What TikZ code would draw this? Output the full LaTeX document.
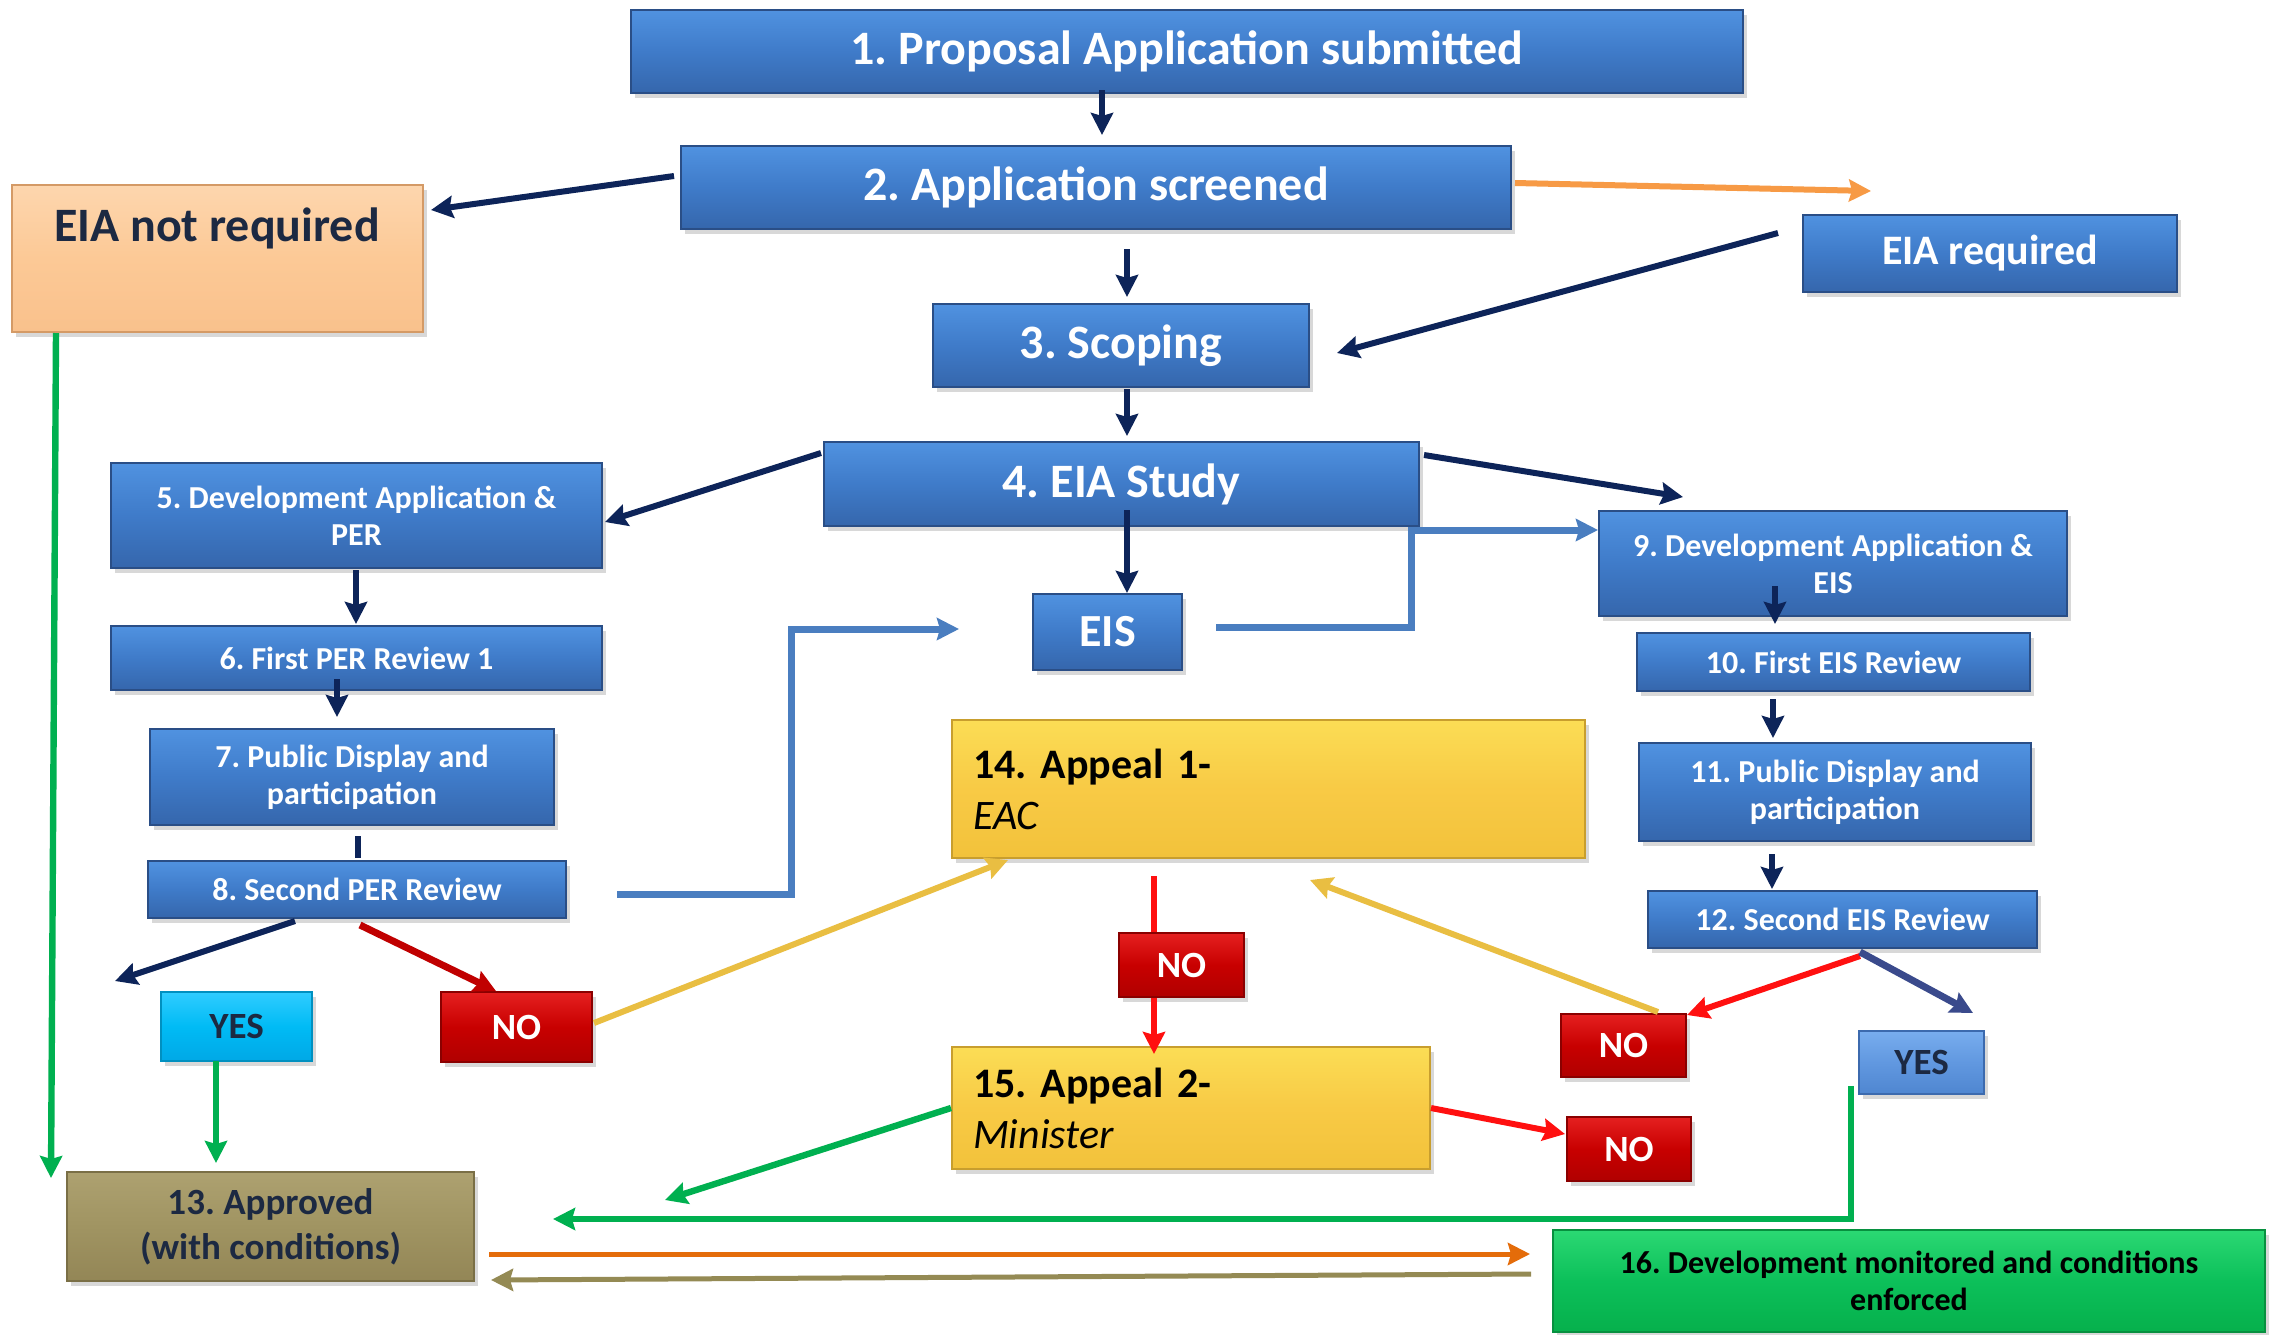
\documentclass[tikz,border=0pt]{standalone}
\usepackage{fontspec}
\setmainfont{Carlito}
\usetikzlibrary{arrows.meta,calc,shadows}
\frenchspacing
\definecolor{navy}{HTML}{0D2459}
\definecolor{bluetop}{HTML}{5092E0}
\definecolor{bluemid}{HTML}{3F7BC9}
\definecolor{bluebot}{HTML}{3566AC}
\definecolor{blueedge}{HTML}{2A4E86}
\definecolor{ortop}{HTML}{FDD6AE}
\definecolor{ormid}{HTML}{FCC996}
\definecolor{orbot}{HTML}{F9C18C}
\definecolor{oredge}{HTML}{D49A66}
\definecolor{yetop}{HTML}{FBDD55}
\definecolor{yemid}{HTML}{F8CA45}
\definecolor{yebot}{HTML}{F2C23B}
\definecolor{yeedge}{HTML}{C89E2E}
\definecolor{rdtop}{HTML}{E52020}
\definecolor{rdmid}{HTML}{C80000}
\definecolor{rdbot}{HTML}{B00000}
\definecolor{rdedge}{HTML}{8A0000}
\definecolor{cytop}{HTML}{30CCFF}
\definecolor{cymid}{HTML}{00BBF5}
\definecolor{cybot}{HTML}{00A8E6}
\definecolor{cyedge}{HTML}{0090C0}
\definecolor{lbtop}{HTML}{78ADEE}
\definecolor{lbmid}{HTML}{6198E0}
\definecolor{lbbot}{HTML}{4F86D0}
\definecolor{lbedge}{HTML}{3C6AAE}
\definecolor{khtop}{HTML}{ADA170}
\definecolor{khmid}{HTML}{A09462}
\definecolor{khbot}{HTML}{938656}
\definecolor{khedge}{HTML}{7A6F46}
\definecolor{grtop}{HTML}{2BD873}
\definecolor{grmid}{HTML}{0CC05A}
\definecolor{grbot}{HTML}{06B04C}
\definecolor{gredge}{HTML}{07903F}
\definecolor{steel}{HTML}{4A7EC0}
\definecolor{orangeln}{HTML}{F79A45}
\definecolor{goldln}{HTML}{E9BE42}
\definecolor{redln}{HTML}{FF1010}
\definecolor{darkredln}{HTML}{C00000}
\definecolor{slate}{HTML}{3A4A8C}
\definecolor{greenln}{HTML}{00B050}
\definecolor{orange2}{HTML}{E46C0A}
\definecolor{khakiln}{HTML}{948A54}
\definecolor{txtnavy}{HTML}{1C2942}
\begin{document}
\begin{tikzpicture}[x=0.5pt,y=-0.5pt,
  sz/.style 2 args={minimum width={#1*0.5pt}, minimum height={#2*0.5pt}},
  box/.style={rectangle, inner sep=0pt, align=center, draw, line width=1pt,
    drop shadow={opacity=0.3, shadow xshift=2pt, shadow yshift=-2.5pt}},
  bluebox/.style={box, top color=bluetop, bottom color=bluebot, middle color=bluemid, draw=blueedge, text=white, font=\bfseries},
  orangebox/.style={box, top color=ortop, bottom color=orbot, middle color=ormid, draw=oredge, text=txtnavy},
  yellowbox/.style={box, top color=yetop, bottom color=yebot, middle color=yemid, draw=yeedge, text=black, align=left, inner xsep=10.5pt},
  redbox/.style={box, top color=rdtop, bottom color=rdbot, middle color=rdmid, draw=rdedge, text=white, font=\bfseries\fontsize{18.5}{22.5}\selectfont},
  cyanbox/.style={box, top color=cytop, bottom color=cybot, middle color=cymid, draw=cyedge, text=txtnavy, font=\bfseries\fontsize{18.5}{22.5}\selectfont},
  lbluebox/.style={box, top color=lbtop, bottom color=lbbot, middle color=lbmid, draw=lbedge, text=txtnavy, font=\bfseries\fontsize{18.5}{22.5}\selectfont},
  khakibox/.style={box, top color=khtop, bottom color=khbot, middle color=khmid, draw=khedge, text=txtnavy, font=\bfseries\fontsize{18.5}{22.5}\selectfont},
  greenbox/.style={box, top color=grtop, bottom color=grbot, middle color=grmid, draw=gredge, text=black, font=\bfseries\fontsize{16}{18.5}\selectfont},
  f24/.style={font=\bfseries\fontsize{24}{28}\selectfont},
  f23/.style={font=\bfseries\fontsize{23}{27}\selectfont},
  f21/.style={font=\bfseries\fontsize{21}{25.5}\selectfont},
  f16/.style={font=\bfseries\fontsize{16}{18.5}\selectfont},
  tip/.style={-{Stealth[length=11pt,width=11pt,inset=1.5pt]}},
  navyarr/.style={draw=navy, line width=3pt, tip},
  navyline/.style={draw=navy, line width=3pt},
  orangearr/.style={draw=orangeln, line width=3pt, tip},
  steelarr/.style={draw=steel, line width=3.5pt, tip},
  goldarr/.style={draw=goldln, line width=3pt, tip},
  redarr/.style={draw=redln, line width=3pt, tip},
  redline/.style={draw=redln, line width=3pt},
  darkredarr/.style={draw=darkredln, line width=3.5pt, tip},
  slatearr/.style={draw=slate, line width=3.5pt, tip},
  greenarr/.style={draw=greenln, line width=3.2pt, tip},
  orangearr2/.style={draw=orange2, line width=2.5pt, tip},
  khakiarr/.style={draw=khakiln, line width=2.5pt, tip}
]
\path[use as bounding box, fill=white] (0,0) rectangle (2285,1334);

% nodes
\node[bluebox,f24,sz={1112}{83}] (n1) at (1187,51.5) {1. Proposal Application submitted};
\node[bluebox,f24,sz={830}{83}] (n2) at (1096,187.5) {2. Application screened};
\node[orangebox,sz={411}{147},font=\bfseries\fontsize{24}{28}\selectfont, text height=28pt, text depth=45.5pt] (nnot) at (217,258.5) {EIA not required};
\node[bluebox,f21,sz={374}{77}] (nreq) at (1990,253.5) {EIA required};
\node[bluebox,f24,sz={376}{83}] (n3) at (1121,345.5) {3. Scoping};
\node[bluebox,f24,sz={595}{84}] (n4) at (1121.5,484) {4. EIA Study};
\node[bluebox,f16,sz={491}{105}] (n5) at (356.5,515.5) {5. Development Application \&\\PER};
\node[bluebox,f16,sz={491}{64}] (n6) at (356.5,658) {6. First PER Review 1};
\node[bluebox,f16,sz={404}{96}] (n7) at (352,777) {7. Public Display and\\participation};
\node[bluebox,f16,sz={418}{57}] (n8) at (357,889.5) {8. Second PER Review};
\node[bluebox,f23,sz={149}{76}] (eis) at (1107.5,632) {EIS};
\node[bluebox,f16,sz={468}{105}] (n9) at (1833,563.5) {9. Development Application \&\\EIS};
\node[bluebox,f16,sz={393}{58}] (n10) at (1833.5,662) {10. First EIS Review};
\node[bluebox,f16,sz={392}{98}] (n11) at (1835,792) {11. Public Display and\\participation};
\node[bluebox,f16,sz={389}{57}] (n12) at (1842.5,919.5) {12. Second EIS Review};
\node[yellowbox,sz={633}{138},text width=295.5pt,font=\fontsize{21}{25.5}\selectfont] (n14) at (1268.5,789) {{\bfseries 14.\ Appeal 1-}\\\textit{EAC}};
\node[yellowbox,sz={478}{122},text width=218pt,font=\fontsize{21}{25.5}\selectfont] (n15) at (1191,1108) {{\bfseries 15.\ Appeal 2-}\\\textit{Minister}};
\node[redbox,sz={151}{70}] (noL) at (516.5,1027) {NO};
\node[cyanbox,sz={151}{69}] (yesL) at (236.5,1026.5) {YES};
\node[redbox,sz={125}{64}] (noC) at (1181.5,965) {NO};
\node[redbox,sz={125}{63}] (noR) at (1623.5,1045.5) {NO};
\node[lbluebox,sz={125}{63}] (yesR) at (1921.5,1062.5) {YES};
\node[redbox,sz={124}{64}] (noB) at (1629,1149) {NO};
\node[khakibox,sz={407}{109}] (n13) at (270.5,1226.5) {13. Approved\\(with conditions)};
\node[greenbox,sz={712}{102}] (n16) at (1909,1281) {16. Development monitored and conditions\\enforced};

% connectors
\draw[navyarr] ($(n1.south)+(-85,-4)$) -- ($(n2.north)+(6,-10)$);
\draw[navyarr] ($(n2.west)+(-6,-11.5)$) -- ($(nnot.east)+(7.5,-48.5)$);
\draw[orangearr] ($(n2.east)+(3,-4.5)$) -- ($(nreq.north)+(-119,-23)$);
\draw[navyarr] ($(nreq.west)+(-24,-20.5)$) -- ($(n3.east)+(27,7.5)$);
\draw[navyarr] ($(n2.south)+(31,19)$) -- ($(n3.north)+(6,-6)$);
\draw[navyarr] ($(n3.south)+(6,1)$) -- ($(n4.north)+(5.5,-5)$);
\draw[navyarr] ($(n4.west)+(-2,-31)$) -- ($(n5.east)+(2,6.5)$);
\draw[navyarr] ($(n4.east)+(4,-29)$) -- ($(n9.north)+(-150,-13)$);
\draw[navyarr] ($(n4.south)+(5.5,-17)$) -- ($(eis.north)+(19.5,0)$);
\draw[navyarr] ($(n5.south)+(-0.5,1)$) -- ($(n6.north)+(-0.5,-1)$);
\draw[navyarr] ($(n6.south)+(-19.5,-12)$) -- ($(n7.north)+(-15,-11)$);
\draw[navyline] ($(n7.south)+(6,10)$) -- ($(n8.north)+(1,-2)$);
\draw[steelarr] ($(eis.east)+(33,-5)$) -- ++(195,0) |- ($(n9.west)+(0,-33.5)$);
\draw[steelarr] ($(n8.east)+(50,4.5)$) -- ++(174,0) |- ($(eis.west)+(-73,-3)$);
\draw[navyarr] ($(n9.south)+(-58,-31)$) -- ($(n10.north)+(-58.5,-8)$);
\draw[navyarr] ($(n10.south)+(-60.5,7)$) -- ($(n11.north)+(-62,-4)$);
\draw[navyarr] ($(n11.south)+(-63,12)$) -- ($(n12.north)+(-70.5,-1)$);
\draw[greenarr] ($(nnot.south)+(-161,0)$) -- ($(n13.west)+(-15,-48.5)$);
\draw[navyarr] ($(n8.south)+(-62,2)$) -- ($(yesL.north)+(-121.5,-10)$);
\draw[darkredarr] ($(n8.south)+(3,6)$) -- ($(noL.north)+(-20.5,0)$);
\draw[goldarr] ($(noL.east)+(1,-4)$) -- ($(n14.south)+(-260.5,1)$);
\draw[greenarr] ($(yesL.south)+(-20.5,-1)$) -- ($(n13.north)+(-54.5,-8)$);
\draw[redline] ($(n14.south)+(-114.5,17)$) -- ($(noC.north)+(-27.5,0)$);
\draw[redarr] ($(noC.south)+(-27.5,0)$) -- ($(n15.north)+(-37,8)$);
\draw[greenarr] (n15.west) -- ($(n13.east)+(190,-26.5)$);
\draw[redarr] ($(n12.south)+(17.5,7)$) -- ($(noR.north east)+(0,2)$);
\draw[slatearr] ($(n12.south)+(17.5,3)$) -- ($(yesR.north)+(51.5,-17)$);
\draw[goldarr] ($(noR.north)+(34.5,-1)$) -- ($(n14.south)+(41.5,21)$);
\draw[redarr] (n15.east) -- ($(noB.west)+(-1,-15)$);
\draw[greenarr] ($(yesR.west)+(-7,23.5)$) |- ($(n13.east)+(78,-7.5)$);
\draw[orangearr2] ($(n13.east)+(14,27.5)$) -- ($(n16.west)+(-22,-27)$);
\draw[khakiarr] ($(n16.west)+(-21,-7)$) -- ($(n13.east)+(16,53.5)$);
\end{tikzpicture}
\end{document}
